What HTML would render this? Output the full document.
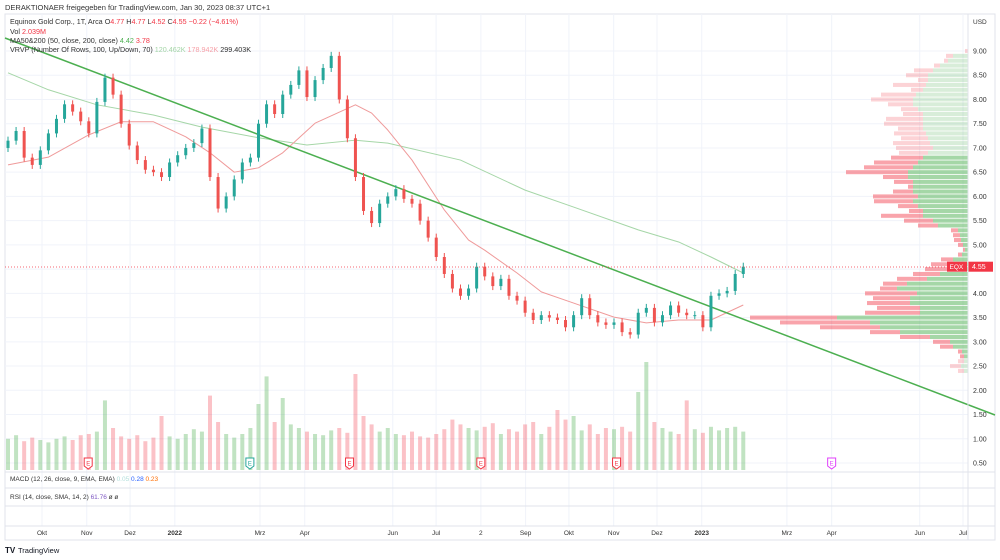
<!DOCTYPE html>
<html><head><meta charset="utf-8"><style>
html,body{margin:0;padding:0;background:#fff;}
body{width:1000px;height:560px;overflow:hidden;font-family:"Liberation Sans",sans-serif;}
svg{display:block}
</style></head><body>
<svg id="chart" width="1000" height="560" viewBox="0 0 1000 560" font-family="Liberation Sans, sans-serif">
<text x="5" y="10" font-size="7.5" fill="#333">DERAKTIONAER freigegeben für TradingView.com, Jan 30, 2023 08:37 UTC+1</text>
<rect x="5" y="14" width="990" height="526" fill="#fff" stroke="#e0e3eb" stroke-width="1"/>
<g id="grid"></g>
<g id="vrvp"></g>
<g id="vol"></g>
<g id="ma"></g>
<line x1="5" y1="38" x2="995" y2="415" stroke="#4caf50" stroke-width="1.5"/>
<g id="candles"></g>
<g id="earn"></g>
<line x1="5" y1="267" x2="968" y2="267" stroke="#f23645" stroke-width="0.7" stroke-dasharray="1,2"/>
<g id="axis"></g>
<g font-size="7.2">
<text x="10" y="24" fill="#333">Equinox Gold Corp., 1T, Arca <tspan>O</tspan><tspan fill="#f23645">4.77</tspan> H<tspan fill="#f23645">4.77</tspan> L<tspan fill="#f23645">4.52</tspan> C<tspan fill="#f23645">4.55</tspan> <tspan fill="#f23645">−0.22 (−4.61%)</tspan></text>
<text x="10" y="34" fill="#333">Vol <tspan fill="#f23645">2.039M</tspan></text>
<text x="10" y="43" fill="#333">MA50&amp;200 (50, close, 200, close) <tspan fill="#4caf50">4.42</tspan> <tspan fill="#f23645">3.78</tspan></text>
<text x="10" y="52" fill="#333">VRVP (Number Of Rows, 100, Up/Down, 70) <tspan fill="#a5d6a7">120.462K</tspan> <tspan fill="#f7a1a8">178.942K</tspan> 299.403K</text>
</g>
<line x1="5" y1="472" x2="995" y2="472" stroke="#e0e3eb"/>
<line x1="5" y1="488" x2="995" y2="488" stroke="#e0e3eb"/>
<line x1="5" y1="506" x2="995" y2="506" stroke="#e0e3eb"/>
<line x1="5" y1="526" x2="995" y2="526" stroke="#e0e3eb"/>
<line x1="968" y1="14" x2="968" y2="540" stroke="#e0e3eb"/>
<text x="10" y="481" font-size="6.5" fill="#333">MACD (12, 26, close, 9, EMA, EMA) <tspan fill="#b2dfdb">0.05</tspan> <tspan fill="#2962ff">0.28</tspan> <tspan fill="#ff6d00">0.23</tspan></text>
<text x="10" y="499" font-size="6.5" fill="#333">RSI (14, close, SMA, 14, 2) <tspan fill="#7e57c2">61.76</tspan> ø ø</text>
<g id="time"></g>
<text x="5" y="553" font-size="8" font-weight="bold" fill="#131722">TV</text>
<text x="18" y="553" font-size="7.5" fill="#131722">TradingView</text>
</svg>
<script>
const closes=[7.15,7.35,6.80,6.65,6.95,7.30,7.60,7.90,7.75,7.55,7.30,7.95,8.45,8.10,7.50,7.05,6.75,6.55,6.50,6.40,6.70,6.85,7.00,7.10,7.40,6.40,5.75,6.00,6.35,6.70,6.80,7.50,7.90,7.70,8.10,8.30,8.60,8.05,8.40,8.65,8.90,8.00,7.20,6.40,5.70,5.45,5.85,6.00,6.15,5.95,5.85,5.50,5.15,4.75,4.40,4.10,3.95,4.10,4.55,4.35,4.15,4.30,3.95,3.85,3.60,3.45,3.55,3.50,3.45,3.30,3.55,3.90,3.55,3.40,3.35,3.40,3.20,3.15,3.60,3.70,3.40,3.55,3.75,3.60,3.55,3.55,3.30,3.95,4.00,4.05,4.40,4.55];
const firstOpen=7.00;
const volumes=[2.6,2.9,2.4,2.7,2.5,2.3,2.6,2.8,2.5,2.9,3.0,3.2,5.8,3.5,2.8,2.6,2.9,2.4,2.7,4.5,2.8,2.6,3.0,3.4,3.2,6.2,4.0,3.0,2.7,3.0,3.5,5.5,7.8,4.0,6.0,3.8,3.5,3.2,3.0,2.9,3.3,3.5,3.1,8.0,4.5,3.8,3.2,3.5,3.0,2.9,3.2,2.8,2.7,3.0,3.4,4.2,3.8,3.5,3.3,3.6,3.9,3.0,3.4,3.2,3.8,4.0,3.0,3.6,5.0,4.2,4.5,3.3,3.8,3.0,3.5,3.4,3.6,3.2,6.5,9.0,4.0,3.5,3.2,3.0,5.8,3.4,3.1,3.6,3.3,3.5,3.6,3.2];
const ma50Idx=[0,5,10,14,18,22,25,28,31,34,38,43,45,47,50,54,57,59,63,66,70,75,79,83,87,91];
const ma50Val=[6.65,6.81,7.27,7.54,7.54,7.23,6.90,6.50,6.59,6.90,7.51,7.89,7.72,7.37,6.75,5.72,5.10,4.89,4.42,4.03,3.80,3.51,3.39,3.45,3.45,3.76];
const ma200Idx=[0,5,11,18,24,31,37,43,47,56,64,70,78,83,87,91];
const ma200Val=[8.55,8.20,7.89,7.68,7.43,7.21,7.06,7.16,7.10,6.75,6.13,5.78,5.31,5.06,4.75,4.42];
const profPrices=[2.4,2.5,2.6,2.7,2.8,2.9,3.0,3.1,3.2,3.3,3.4,3.5,3.6,3.7,3.8,3.9,4.0,4.1,4.2,4.3,4.4,4.5,4.6,4.7,4.8,4.9,5.0,5.1,5.2,5.3,5.4,5.5,5.6,5.7,5.8,5.9,6.0,6.1,6.2,6.3,6.4,6.5,6.6,6.7,6.8,6.9,7.0,7.1,7.2,7.3,7.4,7.5,7.6,7.7,7.8,7.9,8.0,8.1,8.2,8.3,8.4,8.5,8.6,8.7,8.8,8.9,9.0];
const profTotal=[10,18,10,8,10,28,35,68,98,148,188,218,103,91,101,95,103,88,85,71,55,43,37,27,10,5,10,14,15,17,50,64,87,59,70,94,95,75,60,74,85,122,104,94,77,69,72,75,67,74,70,84,82,65,67,80,97,87,57,75,50,62,54,34,24,22,3];
const profUp=[4,7,4,4,6,15,18,38,68,88,98,131,48,48,58,58,51,71,61,41,28,21,15,15,6,3,5,7,8,10,30,35,45,45,50,55,50,55,55,55,60,60,55,50,45,40,35,38,40,42,45,45,45,45,50,55,55,52,45,42,40,40,35,28,20,15,0];
const priceTicks=[0.5,1,1.5,2,2.5,3,3.5,4,4.5,5,5.5,6,6.5,7,7.5,8,8.5,9];
const monthLabels=["Okt","Nov","Dez","2022","Mrz","Apr","Jun","Jul","2","Sep","Okt","Nov","Dez","2023","Mrz","Apr","Jun","Jul"];
const monthDays=[30,61,91,122,181,212,273,303,334,365,395,426,456,487,546,577,638,668];
const earnDays=[62,174,243,334,428,577];
const earnColors=["#f23645","#26a69a","#f23645","#f23645","#f23645","#e040fb"];

const NS="http://www.w3.org/2000/svg";
const yP=p=>463-(p-0.5)*48.47;
const xB=i=>8+8.08*i;
const xD=d=>-1.3+1.4436*d;
function mk(tag,attrs,parent){const e=document.createElementNS(NS,tag);for(const k in attrs)e.setAttribute(k,attrs[k]);parent.appendChild(e);return e;}
const G=id=>document.getElementById(id);

priceTicks.forEach(p=>{const l=mk('line',{x1:5,x2:968,y1:yP(p),y2:yP(p),stroke:'#f0f3fa'},G('grid'));

});
monthDays.forEach(d=>{const l=mk('line',{x1:xD(d),x2:xD(d),y1:14,y2:526,stroke:'#f0f3fa'},G('grid'));

});

const u=mk('text',{x:973,y:24,'font-size':6.5,fill:'#333'},G('axis'));u.textContent='USD';


priceTicks.forEach(p=>{const t=mk('text',{x:973,y:yP(p)+2.5,'font-size':7,fill:'#333'},G('axis'));t.textContent=p.toFixed(2);

});
const last=closes[closes.length-1];
const lb=mk('rect',{x:968,y:yP(last)-5,width:25,height:10,fill:'#f23645'},G('axis'));


const lt=mk('text',{x:972,y:yP(last)+2.5,'font-size':7,fill:'#fff'},G('axis'));lt.textContent=last.toFixed(2);


const sb=mk('rect',{x:947,y:yP(last)-5,width:20,height:10,fill:'#f23645'},G('axis'));


const st=mk('text',{x:949.5,y:yP(last)+2.5,'font-size':6.5,fill:'#fff'},G('axis'));st.textContent='EQX';



monthLabels.forEach((m,i)=>{const t=mk('text',{x:xD(monthDays[i]),y:535,'font-size':6.5,fill:'#333','text-anchor':'middle','font-weight':(m.length===4?'bold':'normal')},G('time'));t.textContent=m;

});

const rowH=4.847;
profPrices.forEach((p,i)=>{const faded=p>=6.85||p<2.65;const y=yP(p)-rowH/2+0.4;
const dn=profTotal[i]-profUp[i];
const r1=mk('rect',{x:968-profUp[i],y:y,width:profUp[i],height:rowH-0.8,fill:faded?'rgba(76,175,80,0.22)':'rgba(76,175,80,0.5)'},G('vrvp'));


const r2=mk('rect',{x:968-profTotal[i],y:y,width:dn,height:rowH-0.8,fill:faded?'rgba(242,54,69,0.22)':'rgba(242,54,69,0.45)'},G('vrvp'));

});

volumes.forEach((v,i)=>{const o=i?closes[i-1]:firstOpen;const up=closes[i]>=o;const h=v*12;
const r=mk('rect',{x:xB(i)-2,y:470-h,width:4,height:h,fill:up?'rgba(76,175,80,0.35)':'rgba(242,54,69,0.3)'},G('vol'));

});

function line(idx,val,color,name){const pts=idx.map((k,j)=>xB(k)+','+yP(val[j])).join(' ');
const pl=mk('polyline',{points:pts,fill:'none',stroke:color,'stroke-width':1,'stroke-linejoin':'round'},G('ma'));

}
line(ma200Idx,ma200Val,'#a5d6a7','ma200-line');
line(ma50Idx,ma50Val,'#ef9a9a','ma50-line');

closes.forEach((c,i)=>{const o=i?closes[i-1]:firstOpen;const up=c>=o;const col=up?'#26a69a':'#ef5350';const x=xB(i);
const w=mk('line',{x1:x,x2:x,y1:yP(Math.max(o,c))-4,y2:yP(Math.min(o,c))+4,stroke:col,'stroke-width':1},G('candles'));


const top=yP(Math.max(o,c));const h=Math.max(1,yP(Math.min(o,c))-top);
const b=mk('rect',{x:x-1.5,y:top,width:3,height:h,fill:col},G('candles'));

});

earnDays.forEach((d,i)=>{const x=xD(d);const c=earnColors[i];
const p=mk('path',{d:`M${x-4},458 h8 v8 l-4,3 l-4,-3 z`,fill:'#fff',stroke:c,'stroke-width':1},G('earn'));


const t=mk('text',{x:x,y:465.5,'font-size':6,fill:c,'text-anchor':'middle'},G('earn'));t.textContent='E';

});
</script>
</body></html>
